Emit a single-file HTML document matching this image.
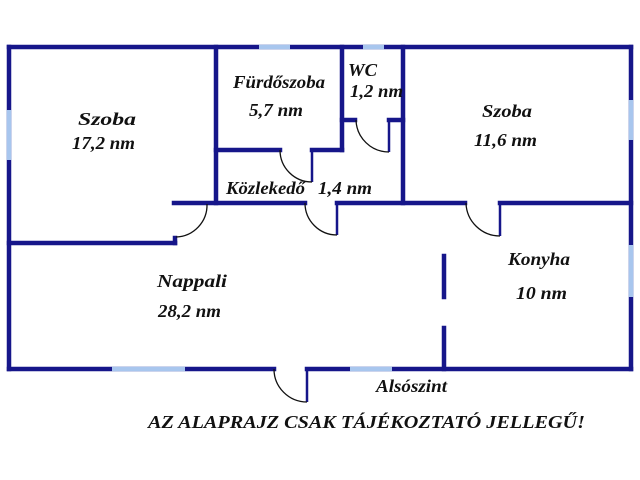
<!DOCTYPE html>
<html><head><meta charset="utf-8"><style>
html,body{margin:0;padding:0;background:#fff;}
svg{display:block}
text{font-family:"Liberation Serif",serif;font-style:italic;font-weight:bold;fill:#111;}
</style></head><body>
<svg width="640" height="480" viewBox="0 0 640 480" xmlns="http://www.w3.org/2000/svg">
<g stroke="#16168a" stroke-width="4.5" fill="none" stroke-linecap="square">
<line x1="9" y1="47" x2="631" y2="47"/>
<line x1="9" y1="47" x2="9" y2="369"/>
<line x1="631" y1="47" x2="631" y2="369"/>
<line x1="9" y1="369" x2="274" y2="369"/>
<line x1="307" y1="369" x2="631" y2="369"/>
<line x1="216" y1="47" x2="216" y2="203"/>
<line x1="9" y1="243" x2="175" y2="243"/>
<line x1="175" y1="243" x2="175" y2="238"/>
<line x1="174" y1="203" x2="305" y2="203"/>
<line x1="337" y1="203" x2="465" y2="203"/>
<line x1="500" y1="203" x2="631" y2="203"/>
<line x1="342" y1="47" x2="342" y2="150"/>
<line x1="216" y1="150" x2="280" y2="150"/>
<line x1="312" y1="150" x2="342" y2="150"/>
<line x1="342" y1="120" x2="355" y2="120"/>
<line x1="389" y1="120" x2="403" y2="120"/>
<line x1="403" y1="47" x2="403" y2="203"/>
<line x1="444" y1="256" x2="444" y2="297"/>
<line x1="444" y1="328" x2="444" y2="369"/>
</g>
<g stroke="#a8c6ee" stroke-width="4.5">
<line x1="259" y1="47" x2="290" y2="47"/>
<line x1="363" y1="47" x2="384" y2="47"/>
<line x1="9" y1="110" x2="9" y2="160"/>
<line x1="631" y1="100" x2="631" y2="140"/>
<line x1="631" y1="245" x2="631" y2="297"/>
<line x1="112" y1="369" x2="185" y2="369"/>
<line x1="350" y1="369" x2="392" y2="369"/>
</g>
<g stroke="#16168a" stroke-width="2.5" fill="none">
<line x1="312" y1="150" x2="312" y2="182"/>
<line x1="389" y1="120" x2="389" y2="152"/>
<line x1="337" y1="203" x2="337" y2="235"/>
<line x1="500" y1="203" x2="500" y2="236"/>
<line x1="307" y1="369" x2="307" y2="402"/>
</g>
<g stroke="#111" stroke-width="1.3" fill="none">
<path d="M280 150 A32 32 0 0 0 312 182"/>
<path d="M356 120 A33 33 0 0 0 389 152"/>
<path d="M305 203 A32 32 0 0 0 337 235"/>
<path d="M466 203 A34 34 0 0 0 500 236"/>
<path d="M274 369 A33 33 0 0 0 307 402"/>
<path d="M207 204 A32 32 0 0 1 176 237"/>
</g>
<g font-size="18">
<text x="78" y="125" textLength="58" lengthAdjust="spacingAndGlyphs">Szoba</text>
<text x="72" y="149" textLength="63" lengthAdjust="spacingAndGlyphs">17,2 nm</text>
<text x="233" y="88" textLength="92" lengthAdjust="spacingAndGlyphs">Fürdőszoba</text>
<text x="249" y="116" textLength="54" lengthAdjust="spacingAndGlyphs">5,7 nm</text>
<text x="348" y="76" textLength="29" lengthAdjust="spacingAndGlyphs">WC</text>
<text x="350" y="97" textLength="53" lengthAdjust="spacingAndGlyphs">1,2 nm</text>
<text x="482" y="117" textLength="50" lengthAdjust="spacingAndGlyphs">Szoba</text>
<text x="474" y="146" textLength="63" lengthAdjust="spacingAndGlyphs">11,6 nm</text>
<text x="226" y="194" textLength="79" lengthAdjust="spacingAndGlyphs">Közlekedő</text>
<text x="318" y="194" textLength="54" lengthAdjust="spacingAndGlyphs">1,4 nm</text>
<text x="157" y="287" textLength="70" lengthAdjust="spacingAndGlyphs">Nappali</text>
<text x="158" y="317" textLength="63" lengthAdjust="spacingAndGlyphs">28,2 nm</text>
<text x="508" y="265" textLength="62" lengthAdjust="spacingAndGlyphs">Konyha</text>
<text x="516" y="299" textLength="51" lengthAdjust="spacingAndGlyphs">10 nm</text>
<text x="376" y="392" textLength="71" lengthAdjust="spacingAndGlyphs">Alsószint</text>
<text x="148" y="428" textLength="437" lengthAdjust="spacingAndGlyphs">AZ ALAPRAJZ CSAK TÁJÉKOZTATÓ JELLEGŰ!</text>
</g>
</svg>
</body></html>
